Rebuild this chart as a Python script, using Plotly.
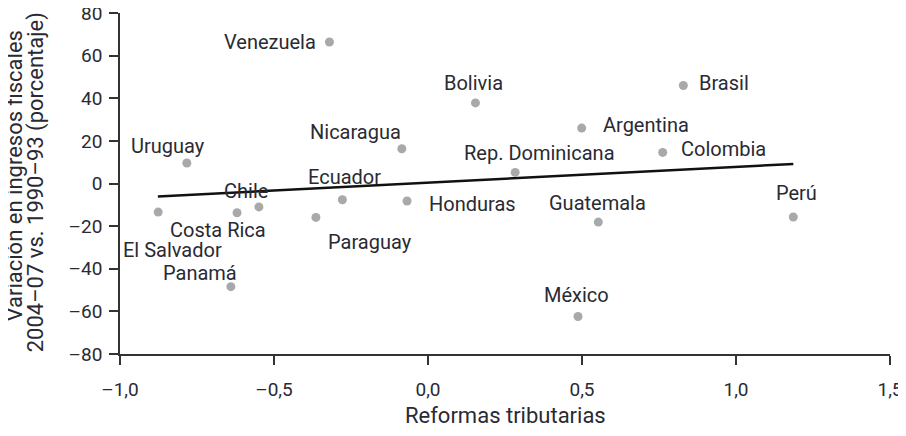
import plotly.graph_objects as go

countries = ["Venezuela", "Bolivia", "Brasil", "Argentina", "Nicaragua", "Uruguay",
             "Colombia", "Rep. Dominicana", "Chile", "Costa Rica", "El Salvador",
             "Panamá", "Ecuador", "Paraguay", "Honduras", "Guatemala", "México", "Perú"]
reformas = [-0.320, 0.154, 0.829, 0.499, -0.085, -0.783,
            0.762, 0.283, -0.549, -0.620, -0.876,
            -0.640, -0.278, -0.364, -0.068, 0.553, 0.487, 1.186]
variacion = [66.4, 37.8, 46.0, 26.0, 16.3, 9.6,
             14.6, 5.2, -11.0, -13.7, -13.4,
             -48.4, -7.6, -15.9, -8.2, -18.1, -62.4, -15.7]

trend_x = [-0.877, 1.186]
trend_y = [-6.1, 9.2]

x_tickvals = [-1.0, -0.5, 0.0, 0.5, 1.0, 1.5]
x_ticktext = ["\u20131,0", "\u20130,5", "0,0", "0,5", "1,0", "1,5"]
y_tickvals = [-80, -60, -40, -20, 0, 20, 40, 60, 80]
y_ticktext = ["\u201380", "\u201360", "\u201340", "\u201320", "0", "20", "40", "60", "80"]

x_title = "Reformas tributarias"
y_title_1 = "Variación en ingresos fiscales"
y_title_2 = "2004\u201307 vs. 1990\u201393 (porcentaje)"

# label placement style: (xanchor, xshift px, yshift px)
label_style = {
    "Venezuela": ("right", -11, 0),
    "Bolivia": ("center", -2, 20),
    "Brasil": ("left", 14, 2),
    "Argentina": ("left", 19, 3),
    "Nicaragua": ("right", 1, 17),
    "Uruguay": ("center", -19, 17),
    "Colombia": ("left", 16, 3),
    "Rep. Dominicana": ("center", 24, 19),
    "Chile": ("center", -13, 16),
    "Costa Rica": ("center", -19, -17),
    "El Salvador": ("center", 14, -38),
    "Panamá": ("center", -31, 14),
    "Ecuador": ("center", 2, 23),
    "Paraguay": ("left", 10, -25),
    "Honduras": ("left", 20, -3),
    "Guatemala": ("center", -1, 19),
    "México": ("center", -2, 21),
    "Perú": ("center", 3, 24),
}

FONT = "Roboto, sans-serif"
TXT = "#2a2a33"

fig = go.Figure()
fig.add_trace(go.Scatter(
    x=trend_x, y=trend_y, mode="lines",
    line=dict(color="#111111", width=2.5), hoverinfo="skip", showlegend=False,
))
fig.add_trace(go.Scatter(
    x=reformas, y=variacion, mode="markers",
    marker=dict(color="#a7a9ac", size=9), text=countries,
    cliponaxis=False, showlegend=False,
))

annotations = []
for c, xv, yv in zip(countries, reformas, variacion):
    xa, xs, ys = label_style[c]
    annotations.append(dict(
        x=xv, y=yv, xref="x", yref="y", text=c, showarrow=False,
        xanchor=xa, yanchor="middle", xshift=xs, yshift=ys,
        font=dict(family=FONT, size=20, color=TXT),
    ))
annotations.append(dict(
    x=-0.137, y=0.522, xref="paper", yref="paper", text=y_title_1, showarrow=False,
    textangle=-90, xanchor="center", yanchor="middle",
    font=dict(family=FONT, size=22, color=TXT),
))
annotations.append(dict(
    x=-0.108, y=0.503, xref="paper", yref="paper", text=y_title_2, showarrow=False,
    textangle=-90, xanchor="center", yanchor="middle",
    font=dict(family=FONT, size=22, color=TXT),
))
annotations.append(dict(
    x=0.5, y=0, xref="paper", yref="paper", text=x_title, showarrow=False,
    xanchor="center", yanchor="middle", yshift=-61,
    font=dict(family=FONT, size=22, color=TXT),
))

# page body has an 8px default margin, so the figure is sized to fit the window
fig.update_layout(
    width=898, height=420,
    margin=dict(l=112, r=16, t=5, b=74),
    paper_bgcolor="white", plot_bgcolor="white",
    showlegend=False,
    annotations=annotations,
    xaxis=dict(
        range=[-1.0, 1.5], tickvals=x_tickvals, ticktext=x_ticktext, automargin=False,
        showgrid=False, zeroline=False, showline=True, linecolor="#333333", linewidth=1.5,
        ticks="outside", ticklen=9, tickwidth=1.5, tickcolor="#333333",
        ticklabelstandoff=8, ticklabeloverflow="allow",
        tickfont=dict(family=FONT, size=19, color=TXT),
    ),
    yaxis=dict(
        range=[-80, 80], tickvals=y_tickvals, ticktext=y_ticktext, automargin=False,
        showgrid=False, zeroline=False, showline=True, linecolor="#333333", linewidth=1.5,
        ticks="outside", ticklen=9, tickwidth=1.5, tickcolor="#333333",
        ticklabelstandoff=3, ticklabeloverflow="allow",
        tickfont=dict(family=FONT, size=19, color=TXT),
    ),
)

fig.write_html("out.html")
